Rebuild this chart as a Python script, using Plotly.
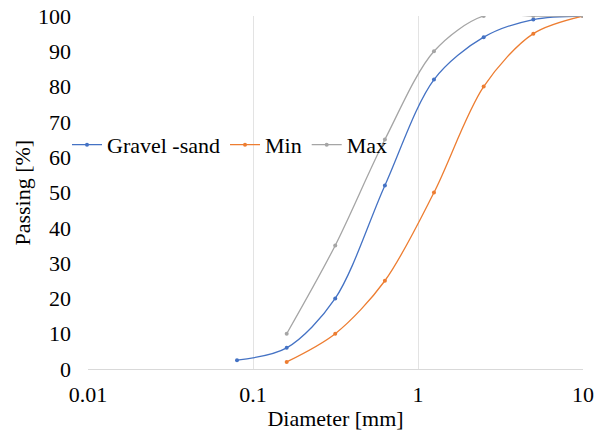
import plotly.graph_objects as go

diam_gs = [0.08, 0.16, 0.315, 0.63, 1.25, 2.5, 5, 10]
pass_gs = [2.5, 6, 20, 52, 82, 94, 99, 100]
diam_min = [0.16, 0.315, 0.63, 1.25, 2.5, 5, 10]
pass_min = [2, 10, 25, 50, 80, 95, 100]
diam_max = [0.16, 0.315, 0.63, 1.25, 2.5, 5, 10]
pass_max = [10, 35, 65, 90, 100, 100, 100]

FONT = "Liberation Serif"
fig = go.Figure()
for name, xs, ys, col in [("Gravel -sand", diam_gs, pass_gs, "#4472C4"),
                          ("Min", diam_min, pass_min, "#ED7D31"),
                          ("Max", diam_max, pass_max, "#A5A5A5")]:
    fig.add_trace(go.Scatter(x=xs, y=ys, name=name, mode="lines+markers",
                             line=dict(color=col, width=1.3, shape="spline", smoothing=0.9),
                             marker=dict(color=col, size=4)))

fig.update_layout(
    width=595, height=433,
    margin=dict(l=88, r=12, t=16, b=64, autoexpand=False),
    paper_bgcolor="white", plot_bgcolor="white",
    font=dict(family=FONT, size=22, color="black"),
    legend=dict(orientation="h", xref="container", x=0.1126, y=0.635,
                xanchor="left", yanchor="middle",
                font=dict(family=FONT, size=22), itemwidth=30, bgcolor="rgba(0,0,0,0)",
                tracegroupgap=0),
    xaxis=dict(type="log", range=[-2, 1], tickvals=[0.01, 0.1, 1, 10],
               ticktext=["0.01", "0.1", "1", "10"], automargin=False,
               showgrid=True, gridcolor="#E3E3E3", gridwidth=1,
               showline=True, linecolor="#D9D9D9", linewidth=1,
               zeroline=False, ticks="", ticklabelstandoff=6,
               tickfont=dict(family=FONT, size=22),
               title=dict(text="Diameter [mm]", font=dict(family=FONT, size=22), standoff=4)),
    yaxis=dict(range=[0, 100], dtick=10, showgrid=False, automargin=False,
               showline=False, zeroline=False, ticks="", ticklabelstandoff=16,
               tickfont=dict(family=FONT, size=22)),
    annotations=[dict(text="Passing [%]", xref="paper", yref="paper",
                      x=-0.1333, y=0.5, xanchor="center", yanchor="middle",
                      textangle=-90, showarrow=False,
                      font=dict(family=FONT, size=22, color="black"))],
)
fig.write_html("out.html")
